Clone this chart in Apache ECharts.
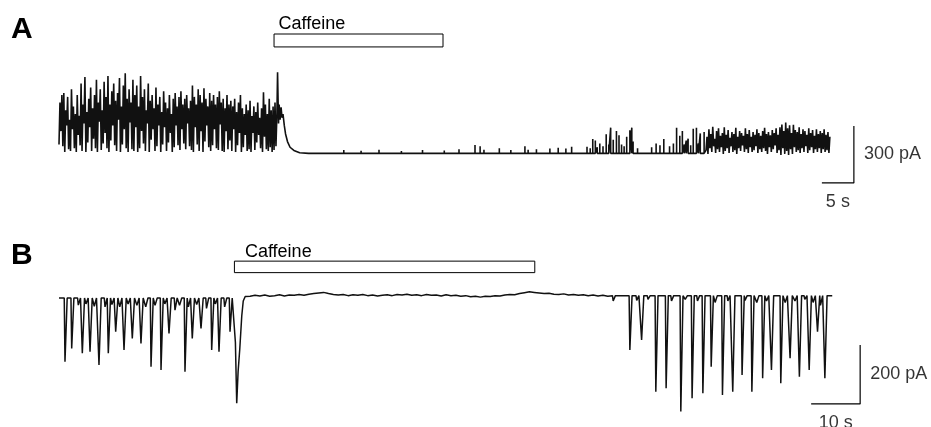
<!DOCTYPE html>
<html>
<head>
<meta charset="utf-8">
<script src="https://cdn.jsdelivr.net/npm/echarts@6/dist/echarts.min.js"></script>
<style>
  html, body { margin: 0; padding: 0; background: #fff; }
  #chart { width: 931px; height: 427px; }
</style>
</head>
<body>
<div id="chart"></div>
<script>
// ---- panel A (pA, time in s) ----
// burst before caffeine, one sample every 0.15 s from t = 0
const aBurst = [
  40,260, 110,300, 30,310, 0,220, 140,290, 15,170, 5,330, 120,240, 20,200, 0,300,
  90,190, 35,360, 5,250, 150,395, 0,210, 50,280, 130,340, 5,230, 70,300, 20,380,
  0,260, 160,330, 10,220, 45,370, 100,290, 20,400, 0,250, 60,320, 140,360, 35,270,
  5,310, 170,390, 0,240, 40,350, 120,415, 20,280, 0,330, 155,260, 15,380, 5,300,
  130,350, 0,240, 20,400, 110,290, 45,330, 5,220, 150,360, 0,270, 65,300, 120,230,
  5,340, 30,250, 140,290, 0,210, 40,320, 130,260, 5,230, 50,300, 100,200, 0,280,
  25,310, 140,240, 35,290, 10,320, 120,250, 45,280, 15,300, 150,230, 30,270, 10,350,
  0,290, 130,250, 40,330, 5,300, 110,260, 0,335, 55,280, 140,240, 25,310, 5,270,
  35,300, 120,250, 20,290, 10,320, 145,260, 5,280, 0,230, 110,300, 15,250, 60,270,
  5,240, 120,280, 0,210, 35,260, 100,300, 0,230, 25,200, 90,250, 5,220, 15,270,
  0,190, 100,240, 10,210, 50,260, 90,180, 20,230, 0,315, 80,250, 15,200, 5,280,
  25,220, 0,240, 10,260, 30,200
];
const aStep = 0.15;
// response to caffeine [s, pA]
const aResponse = [
  [34.15, 420], [34.3, 150], [34.4, 250], [34.55, 170], [34.7, 235], [34.85, 180],
  [35.0, 200], [35.2, 140], [35.4, 95], [35.7, 55], [36.1, 25], [36.7, 8],
  [37.6, -4], [39.0, -7]
];
// single openings after wash-in [s, pA]
const aLateSpikes = [
  [41.5, 2], [44.5, 10], [47.2, 6], [50.0, 12], [53.5, 5], [56.8, 10], [60.2, 8],
  [62.5, 14], [65.0, 37], [65.8, 30], [66.4, 12], [68.8, 20], [70.6, 10], [72.8, 30],
  [73.3, 12], [74.6, 14], [76.7, 18], [78.0, 22], [79.2, 18], [80.1, 28], [82.5, 28],
  [83.0, 20], [83.4, 68], [83.8, 60], [84.1, 25], [84.5, 45], [85.0, 30], [85.5, 93],
  [85.9, 40], [86.2, 128], [86.6, 65], [87.1, 110], [87.5, 88], [87.9, 40], [88.3, 30],
  [88.7, 80], [89.2, 115], [89.5, 128], [89.7, 55], [90.4, 20], [92.6, 25], [93.3, 45],
  [93.9, 35], [94.5, 68], [95.4, 30], [96.0, 45], [96.5, 128], [97.0, 85], [97.4, 110],
  [97.7, 40], [98.0, 60], [98.3, 70], [98.7, 35], [99.1, 123], [99.6, 128], [99.9, 45],
  [100.2, 98], [100.8, 105]
];
const aLateBase = -7;
// returning activity, one sample every 0.15 s from t = 101.1
const aLateDense = [
  10,80, -10,120, 20,95, 0,133, 30,70, -5,110, 15,125, 0,85, 25,100, -10,130,
  5,90, 20,115, -5,75, 30,105, 0,95, 10,128, -10,80, 20,110, 5,100, 35,85,
  0,125, 15,95, -5,115, 25,80, 0,105, 10,90, 30,120, -5,100, 15,85, 0,110,
  20,128, 5,95, -10,105, 25,88, 0,115, 15,100, 35,125, -5,90, 10,130, -15,145,
  20,110, -10,155, 5,125, -15,140, 15,100, -10,143, 25,115, 0,105, 10,130, -5,95,
  20,120, 0,110, 30,90, -5,125, 10,100, 25,115, -5,85, 15,120, 0,95, 20,110,
  -5,100, 15,120, 0,90, 10,105, -5,80
];
const aLateStart = 101.1;
const aCaffeine = [33.6, 60];
const scaleA = { time: 5, current: 300 };

// ---- panel B ----
// synaptic currents before caffeine [s, peak pA]
const bEventsPre = [
  [1.22, -216], [2.59, -171], [3.94, -24], [4.76, -187], [5.5, -20], [6.33, -182],
  [7.2, -28], [8.16, -227], [9.39, -30], [10.06, -187], [10.8, -22], [11.57, -114],
  [12.4, -30], [13.27, -176], [14.1, -20], [14.96, -137], [15.9, -25], [16.73, -154],
  [17.7, -30], [18.78, -233], [19.6, -25], [20.82, -244], [21.6, -20], [22.45, -120],
  [23.67, -41], [24.6, -25], [25.71, -250], [26.4, -30], [27.2, -137], [28.1, -22],
  [28.98, -103], [30.1, -35], [31.16, -176], [31.9, -20], [32.65, -182], [33.8, -30],
  [34.9, -114]
];
const bResponse = [
  [35.75, -5], [36.0, -150], [36.27, -357], [36.55, -250], [36.9, -171],
  [37.3, -60], [37.6, -10], [38.0, 5]
];
// quiet baseline in caffeine [s, pA]
const bFlat = [
  [39, 6], [40, 9], [41, 7], [42, 10], [43, 6], [44, 8], [45, 11], [46, 7], [47, 10],
  [48, 9], [49, 12], [50, 9], [51, 13], [52, 15], [53, 17], [54, 19], [55, 15], [56, 12],
  [57, 10], [58, 12], [59, 8], [60, 11], [61, 9], [62, 12], [63, 8], [64, 10], [65, 7],
  [66, 9], [67, 11], [68, 8], [69, 12], [70, 10], [71, 13], [72, 9], [73, 11], [74, 8],
  [75, 12], [76, 9], [77, 10], [78, 7], [79, 11], [80, 8], [81, 9], [82, 6], [83, 8],
  [84, 4], [85, 6], [86, 3], [87, 6], [88, 5], [89, 8], [90, 7], [91, 10], [92, 12],
  [93, 11], [94, 15], [95, 18], [96, 21], [97, 19], [98, 17], [99, 15], [100, 16],
  [101, 13], [102, 12], [103, 14], [104, 10], [105, 12], [106, 9], [107, 11], [108, 8],
  [109, 10], [110, 7], [111, 9], [112, 6]
];
// synaptic currents after wash-out [s, peak pA]
const bEventsPost = [
  [113.1, -10], [116.5, -176], [117.9, -8], [118.9, -142], [120.2, -5], [121.8, -318],
  [123.9, -306], [125.0, -10], [126.9, -385], [127.8, -5], [129.2, -340], [130.3, -10],
  [131.4, -323], [133.1, -233], [133.9, -15], [135.4, -329], [136.5, -10], [137.5, -318],
  [139.4, -261], [140.0, -8], [141.4, -318], [142.4, -15], [143.6, -272], [144.4, -10],
  [145.4, -244], [147.3, -289], [148.2, -15], [149.2, -204], [150.2, -10], [151.1, -267],
  [152.2, -5], [153.1, -244], [153.9, -15], [154.8, -114], [155.4, -25], [156.3, -272]
];
const bBasePre = 0;
const bBasePost = 8;
const bEnd = 157.8;
const bCaffeine = [35.8, 97.1];
const scaleB = { time: 10, current: 200 };

// ---- build traces ----
const traceA = [];
aBurst.forEach((v, i) => traceA.push([i * aStep, v]));
aResponse.forEach(p => traceA.push(p));
aLateSpikes.forEach(([t, v]) => traceA.push([t, aLateBase], [t, v], [t, aLateBase]));
aLateDense.forEach((v, i) => traceA.push([aLateStart + i * aStep, v]));

const rise = 0.15, decay = 0.45;
const traceB = [[0, bBasePre]];
bEventsPre.forEach(([t, v]) => traceB.push([t - rise, bBasePre], [t, v], [t + decay, bBasePre]));
bResponse.forEach(p => traceB.push(p));
bFlat.forEach(p => traceB.push(p));
bEventsPost.forEach(([t, v]) => traceB.push([t - rise, bBasePost], [t, v], [t + decay, bBasePost]));
traceB.push([bEnd, bBasePost]);

const FONT = '"Liberation Sans", Arial, Helvetica, sans-serif';

function caffeineBar(range, levels, dx) {
  return {
    silent: true,
    itemStyle: { color: '#fff', borderColor: '#000', borderWidth: 1 },
    label: { show: true, position: [dx, -18], color: '#000', fontSize: 18, fontFamily: FONT },
    data: [[{ name: 'Caffeine', coord: [range[0], levels[0]] }, { coord: [range[1], levels[1]] }]]
  };
}

function scaleBar(corner, s, idx) {
  const [x, y] = corner;
  return {
    type: 'line', xAxisIndex: idx, yAxisIndex: idx, symbol: 'none', silent: true,
    lineStyle: { color: '#000', width: 1.2 },
    data: [[x - s.time, y], [x, y], [x, y + s.current]]
  };
}

function scaleLabels(corner, s, idx) {
  const [x, y] = corner;
  return {
    type: 'scatter', xAxisIndex: idx, yAxisIndex: idx, symbolSize: 0, silent: true,
    label: { show: true, color: '#000', fontSize: 18, fontFamily: FONT, formatter: '{b}' },
    data: [
      { name: s.current + ' pA', value: [x, y + s.current / 2], label: { position: 'right', distance: 10 } },
      { name: s.time + ' s', value: [x - s.time / 2, y], label: { position: 'bottom', distance: 10 } }
    ]
  };
}

const chart = echarts.init(document.getElementById('chart'));
chart.setOption({
  animation: false,
  backgroundColor: '#fff',
  title: [
    { text: 'A', left: 11, top: 15, padding: 0, textStyle: { fontSize: 30, fontWeight: 'bold', color: '#000', fontFamily: FONT } },
    { text: 'B', left: 11, top: 241, padding: 0, textStyle: { fontSize: 30, fontWeight: 'bold', color: '#000', fontFamily: FONT } }
  ],
  grid: [
    { left: 59, top: 19, width: 864, height: 190 },
    { left: 59, top: 239, width: 833, height: 182.9 }
  ],
  xAxis: [
    { type: 'value', gridIndex: 0, min: 0, max: 135, show: false },
    { type: 'value', gridIndex: 1, min: 0, max: 170, show: false }
  ],
  yAxis: [
    { type: 'value', gridIndex: 0, min: -300, max: 700, show: false },
    { type: 'value', gridIndex: 1, min: -420, max: 200, show: false }
  ],
  series: [
    {
      type: 'line', xAxisIndex: 0, yAxisIndex: 0, data: traceA, symbol: 'none',
      lineStyle: { color: '#111', width: 1.6 },
      markArea: caffeineBar(aCaffeine, [553, 621], 5)
    },
    {
      type: 'line', xAxisIndex: 1, yAxisIndex: 1, data: traceB, symbol: 'none',
      lineStyle: { color: '#111', width: 1.5 },
      markArea: caffeineBar(bCaffeine, [86, 125], 11)
    },
    scaleBar([124.2, -163], scaleA, 0),
    scaleLabels([124.2, -163], scaleA, 0),
    scaleBar([163.5, -359], scaleB, 1),
    scaleLabels([163.5, -359], scaleB, 1)
  ]
});
</script>
</body>
</html>
